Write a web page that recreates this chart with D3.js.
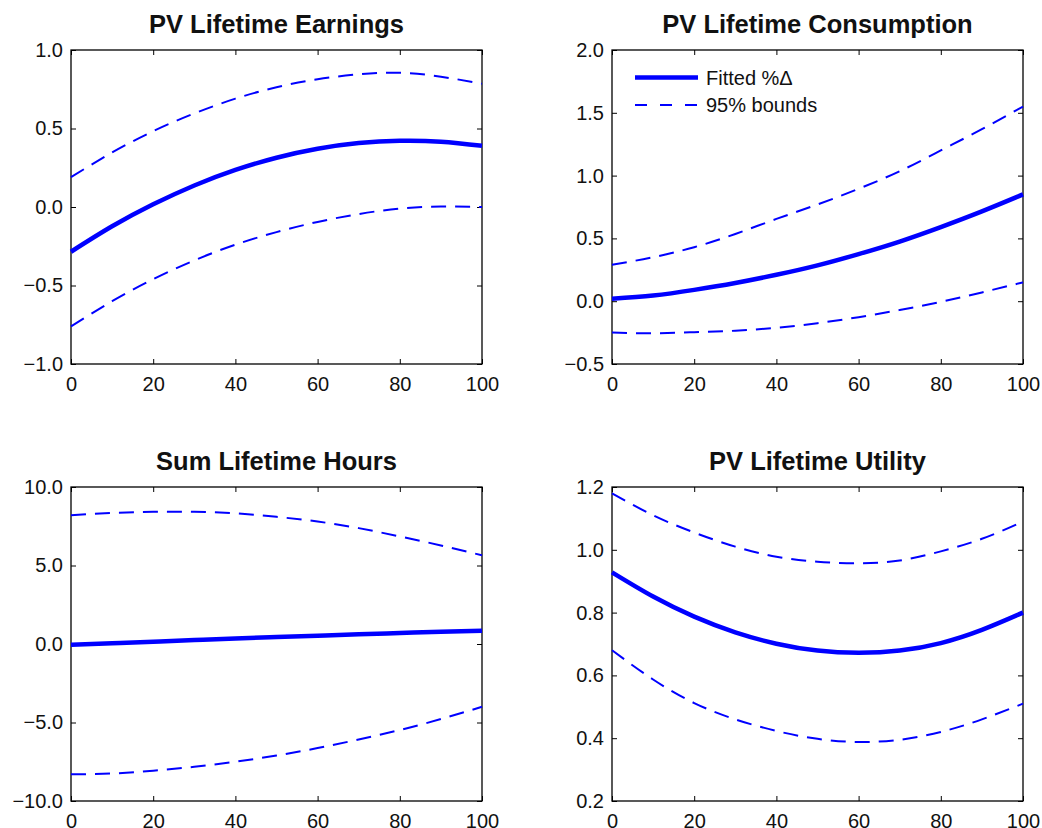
<!DOCTYPE html>
<html>
<head>
<meta charset="utf-8">
<script src="https://cdn.jsdelivr.net/npm/d3@7"></script>
<style>
  body { margin: 0; background: #fff; }
  svg { display: block; font-family: "Liberation Sans", Arial, Helvetica, sans-serif; }
</style>
</head>
<body>
<div id="chart"></div>
<script>
const xs = [0, 10, 20, 30, 40, 50, 60, 70, 80, 90, 100];
const xTicks = [0, 20, 40, 60, 80, 100];

// PV Lifetime Earnings
const earningsFit   = [-0.285, -0.123, 0.017, 0.137, 0.236, 0.314, 0.371, 0.407, 0.422, 0.416, 0.39];
const earningsUpper = [0.19, 0.347, 0.483, 0.596, 0.69, 0.763, 0.814, 0.845, 0.855, 0.83, 0.785];
const earningsLower = [-0.76, -0.60, -0.46, -0.34, -0.24, -0.16, -0.095, -0.045, -0.01, 0.003, 0.0];
const earningsTicks = [-1, -0.5, 0, 0.5, 1];

// PV Lifetime Consumption
const consFit   = [0.02, 0.045, 0.09, 0.145, 0.21, 0.285, 0.375, 0.475, 0.59, 0.715, 0.85];
const consUpper = [0.29, 0.35, 0.43, 0.535, 0.655, 0.77, 0.895, 1.035, 1.20, 1.37, 1.55];
const consLower = [-0.25, -0.255, -0.247, -0.235, -0.212, -0.175, -0.127, -0.07, -0.005, 0.07, 0.15];
const consTicks = [-0.5, 0, 0.5, 1, 1.5, 2];

// Sum Lifetime Hours
const hoursFit   = [-0.05, 0.05, 0.15, 0.25, 0.35, 0.44, 0.53, 0.62, 0.70, 0.78, 0.85];
const hoursUpper = [8.2, 8.35, 8.42, 8.42, 8.32, 8.1, 7.8, 7.38, 6.85, 6.28, 5.65];
const hoursLower = [-8.3, -8.25, -8.07, -7.82, -7.5, -7.1, -6.63, -6.08, -5.48, -4.78, -4.0];
const hoursTicks = [-10, -5, 0, 5, 10];

// PV Lifetime Utility
const utilFit   = [0.928, 0.851, 0.787, 0.737, 0.701, 0.679, 0.672, 0.679, 0.703, 0.745, 0.80];
const utilUpper = [1.18, 1.11, 1.055, 1.01, 0.978, 0.962, 0.957, 0.966, 0.995, 1.035, 1.09];
const utilLower = [0.68, 0.587, 0.512, 0.46, 0.423, 0.398, 0.388, 0.395, 0.42, 0.46, 0.51];
const utilTicks = [0.2, 0.4, 0.6, 0.8, 1.0, 1.2];

const legendLabels = ["Fitted %Δ", "95% bounds"];

const panels = [
  { title: "PV Lifetime Earnings", fit: earningsFit, upper: earningsUpper, lower: earningsLower, ticks: earningsTicks, x0: 71, y0: 50 },
  { title: "PV Lifetime Consumption", fit: consFit, upper: consUpper, lower: consLower, ticks: consTicks, x0: 612, y0: 50, legend: true },
  { title: "Sum Lifetime Hours", fit: hoursFit, upper: hoursUpper, lower: hoursLower, ticks: hoursTicks, x0: 71, y0: 487 },
  { title: "PV Lifetime Utility", fit: utilFit, upper: utilUpper, lower: utilLower, ticks: utilTicks, x0: 612, y0: 487 }
];

const width = 1042;
const height = 828;
const pw = 411;   // plot box width
const ph = 314;   // plot box height
const blue = "#0000ff";

const svg = d3.create("svg")
    .attr("width", width)
    .attr("height", height)
    .attr("viewBox", [0, 0, width, height]);

for (const p of panels) {
    const g = svg.append("g").attr("transform", `translate(${p.x0},${p.y0})`);

    const x = d3.scaleLinear([0, 100], [0, pw]);
    const y = d3.scaleLinear(d3.extent(p.ticks), [ph, 0]);
    const fmt = d3.format(".1f");

    // bottom + left axes carry the labels, ticks point inward
    g.append("g")
        .attr("transform", `translate(0,${ph})`)
        .call(d3.axisBottom(x).tickValues(xTicks).tickSizeInner(-5).tickSizeOuter(0).tickPadding(13).tickFormat(d3.format("d")));
    g.append("g")
        .call(d3.axisLeft(y).tickValues(p.ticks).tickSizeInner(-5).tickSizeOuter(0).tickPadding(8).tickFormat(fmt));
    // top + right axes: ticks only
    g.append("g")
        .call(d3.axisTop(x).tickValues(xTicks).tickSizeInner(-5).tickSizeOuter(0).tickFormat(""));
    g.append("g")
        .attr("transform", `translate(${pw},0)`)
        .call(d3.axisRight(y).tickValues(p.ticks).tickSizeInner(-5).tickSizeOuter(0).tickFormat(""));

    g.selectAll(".tick text").attr("font-size", 20).attr("fill", "#111").attr("font-family", null);
    g.selectAll(".tick line").attr("stroke", "#000");
    g.selectAll(".domain").remove();

    g.append("rect")
        .attr("width", pw)
        .attr("height", ph)
        .attr("fill", "none")
        .attr("stroke", "#000")
        .attr("stroke-width", 1.3);

    const line = d3.line()
        .x((d, i) => x(xs[i]))
        .y(d => y(d))
        .curve(d3.curveNatural);

    g.append("path").datum(p.upper)
        .attr("fill", "none").attr("stroke", blue).attr("stroke-width", 2)
        .attr("stroke-dasharray", "15,9").attr("d", line);
    g.append("path").datum(p.lower)
        .attr("fill", "none").attr("stroke", blue).attr("stroke-width", 2)
        .attr("stroke-dasharray", "15,9").attr("d", line);
    g.append("path").datum(p.fit)
        .attr("fill", "none").attr("stroke", blue).attr("stroke-width", 4.5)
        .attr("d", line);

    g.append("text")
        .attr("x", pw / 2)
        .attr("y", -17)
        .attr("text-anchor", "middle")
        .attr("font-size", 25.5)
        .attr("font-weight", "bold")
        .attr("fill", "#111")
        .text(p.title);

    if (p.legend) {
        const leg = g.append("g").attr("transform", "translate(23,27.5)");
        legendLabels.forEach((label, i) => {
            const row = leg.append("g").attr("transform", `translate(0,${i * 27.5})`);
            row.append("line")
                .attr("x1", 0).attr("x2", 63)
                .attr("stroke", blue)
                .attr("stroke-width", i === 0 ? 4.5 : 2)
                .attr("stroke-dasharray", i === 0 ? null : "12,13");
            row.append("text")
                .attr("x", 71)
                .attr("dy", "0.35em")
                .attr("font-size", 20)
                .attr("fill", "#111")
                .text(label);
        });
    }
}

document.getElementById("chart").appendChild(svg.node());
</script>
</body>
</html>
